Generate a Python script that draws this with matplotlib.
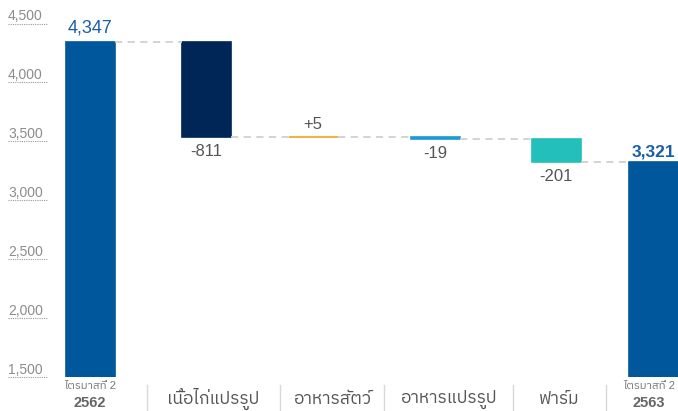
import matplotlib
matplotlib.use("Agg")
from matplotlib import pyplot as plt
from matplotlib import font_manager
from matplotlib.ft2font import FT2Font
import matplotlib.transforms as mtransforms

# data
categories = ["ไตรมาสที่ 2\n2562", "เนื้อไก่แปรรูป", "อาหารสัตว์", "อาหารแปรรูป", "ฟาร์ม", "ไตรมาสที่ 2\n2563"]
start_value = 4347
changes = [-811, 5, -19, -201]
end_value = 3321
yticks = [1500, 2000, 2500, 3000, 3500, 4000, 4500]

# layout (axis units, figure is 6.78 units wide)
slots = [0.90, 2.06, 3.13, 4.355, 5.56, 6.53]
separators = [1.47, 2.80, 3.84, 5.13, 6.06]
bar_w = 0.49
colors = ["#00579b", "#002557", "#f3a21d", "#1b9ad6", "#23bfbb", "#00579b"]

# find a font with Thai glyphs
thai_font = None
for f in font_manager.fontManager.ttflist:
    try:
        if FT2Font(f.fname).get_char_index(0x0E01):
            thai_font = f.name
            if "Sans" in f.name:
                break
    except Exception:
        pass
fam = ["Liberation Sans"] + ([thai_font] if thai_font else []) + ["DejaVu Sans"]
plt.rcParams["font.family"] = fam

fig = plt.figure(figsize=(6.78, 4.11), dpi=100)
ax = fig.add_axes([0, 34 / 411, 1, 1 - 34 / 411])
ax.set_xlim(0, 6.78)
ax.set_ylim(1500, 4700)
ax.axis("off")

# waterfall bars
bottoms = [1500]
heights = [start_value - 1500]
level = start_value
levels = [start_value]
for c in changes:
    new = level + c
    bottoms.append(min(level, new))
    heights.append(abs(c))
    level = new
    levels.append(level)
bottoms.append(1500)
heights.append(end_value - 1500)

ax.bar(slots, heights, bottom=bottoms, width=bar_w, color=colors,
       edgecolor=colors, linewidth=1.2)

# connectors
for i in range(len(slots) - 1):
    ax.plot([slots[i] + bar_w / 2, slots[i + 1] - bar_w / 2], [levels[i], levels[i]],
            color="#d0d0d0", lw=1.3, dashes=(4, 3))

# value labels
ax.annotate(f"{start_value:,}", (slots[0], start_value), xytext=(0, 4), textcoords="offset points",
            ha="center", va="bottom", fontsize=13, color="#1a5fa6")
ax.annotate(f"{end_value:,}", (slots[-1], end_value), xytext=(0, 2), textcoords="offset points",
            ha="center", va="bottom", fontsize=12.5, color="#1a5fa6", fontweight="bold")
prev = start_value
for i, c in enumerate(changes):
    txt = f"+{c}" if c > 0 else f"{c}"
    if c > 0:
        ax.annotate(txt, (slots[i + 1], prev + c), xytext=(0, 3), textcoords="offset points",
                    ha="center", va="bottom", fontsize=12, color="#555555")
    else:
        ax.annotate(txt, (slots[i + 1], prev + c), xytext=(0, -5), textcoords="offset points",
                    ha="center", va="top", fontsize=12, color="#555555")
    prev += c

# y axis labels with short dotted lines
trans = mtransforms.blended_transform_factory(ax.transAxes, ax.transData)
for t in yticks:
    ax.plot([8 / 678, 48 / 678], [t, t], transform=trans, color="#9a9a9a", lw=0.8,
            ls=(0, (1, 1)), clip_on=False)
    ax.annotate(f"{t:,}", (8 / 678, t), xycoords=trans, xytext=(0, 2.5),
                textcoords="offset points", ha="left", va="baseline",
                fontsize=10, color="#8c8c8c")

# bottom category labels
bt = mtransforms.blended_transform_factory(ax.transData, fig.transFigure)
for s in separators:
    ax.plot([s, s], [1 - 385 / 411, 0], transform=bt, color="#d9d9d9", lw=1, clip_on=False)
mids = [slots[0]] + [(separators[i] + separators[i + 1]) / 2 for i in range(4)] + [slots[-1] - 0.04]
for i, lab in enumerate(categories):
    if "\n" in lab:
        top, bot = lab.split("\n")
        ax.text(mids[i], 1 - 386 / 411, top, transform=bt, ha="center", va="center",
                fontsize=8.1, color="#777777")
        ax.text(mids[i], 1 - 403 / 411, bot, transform=bt, ha="center", va="center",
                fontsize=10.5, color="#666666", fontweight="bold")
    else:
        ax.text(mids[i], 1 - 399 / 411, lab, transform=bt, ha="center", va="center",
                fontsize=12.5, color="#555555")

fig.savefig("out.png", dpi=100)
